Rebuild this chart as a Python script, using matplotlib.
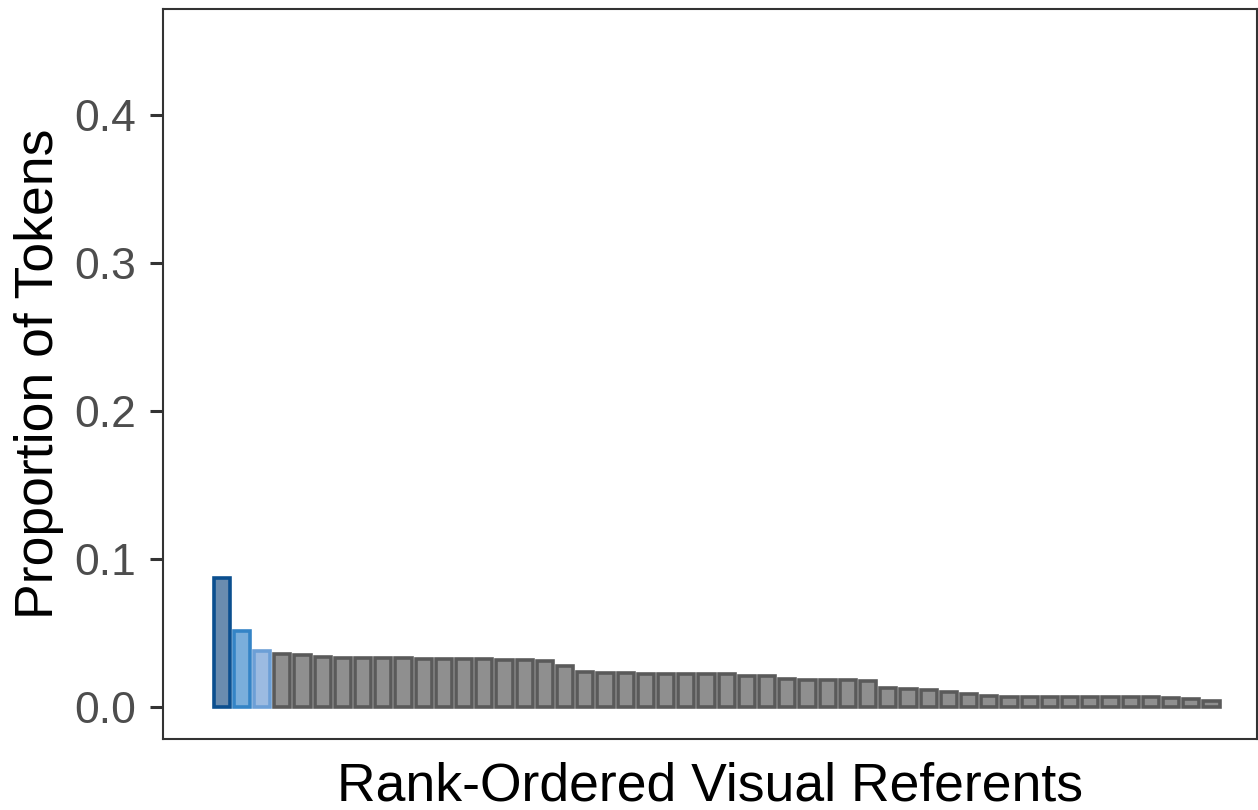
import matplotlib
matplotlib.use("Agg")
import matplotlib.pyplot as plt
import numpy as np

plt.rcParams['font.family'] = ['Liberation Sans', 'DejaVu Sans']

# Data: proportion of tokens per rank-ordered visual referent
proportions = [
    0.087, 0.0514, 0.0378, 0.0360, 0.0351, 0.0338, 0.0329, 0.0329, 0.0329, 0.0329,
    0.0327, 0.0327, 0.0325, 0.0322, 0.0320, 0.0320, 0.0308, 0.0279, 0.0234, 0.0232,
    0.0227, 0.0225, 0.0220, 0.0220, 0.0220, 0.0220, 0.0209, 0.0209, 0.0191, 0.0185,
    0.0180, 0.0180, 0.0176, 0.0130, 0.0122, 0.0115, 0.0099, 0.0086, 0.0072, 0.0068,
    0.0068, 0.0068, 0.0066, 0.0066, 0.0066, 0.0065, 0.0065, 0.0059, 0.0052, 0.0043,
]
ranks = list(range(1, len(proportions) + 1))
y_ticks = [0.0, 0.1, 0.2, 0.3, 0.4]
y_tick_labels = ["0.0", "0.1", "0.2", "0.3", "0.4"]

fills = ["#6a8caf", "#7aaedb", "#9cbbe1"] + ["#8f8f8f"] * (len(proportions) - 3)
edges = ["#0b4f8f", "#3484c6", "#6c9fd6"] + ["#5a5a5a"] * (len(proportions) - 3)

fig = plt.figure(figsize=(12.58, 8.10), dpi=100)
ax = fig.add_axes([163/1258, 1 - 739/810, (1257-163)/1258, (739-9)/810])

ax.bar(ranks, proportions, width=0.8, color=fills, edgecolor=edges, linewidth=2.6)

ax.set_xlim(-1.91, 52.25)
ax.set_ylim(-0.0216, 0.4716)
ax.set_xticks([])
ax.set_yticks(y_ticks)
ax.set_yticklabels(y_tick_labels)
ax.tick_params(axis='y', length=9.5, width=2.2, color='#333333', labelsize=32,
               labelcolor='#4d4d4d', pad=10)
for s in ax.spines.values():
    s.set_color('#333333')
    s.set_linewidth(1.5)

ax.set_xlabel("Rank-Ordered Visual Referents", fontsize=38.5, color='black', labelpad=16)
ax.set_ylabel("Proportion of Tokens", fontsize=38.5, color='black', labelpad=7)

fig.savefig("out.png", dpi=100)
